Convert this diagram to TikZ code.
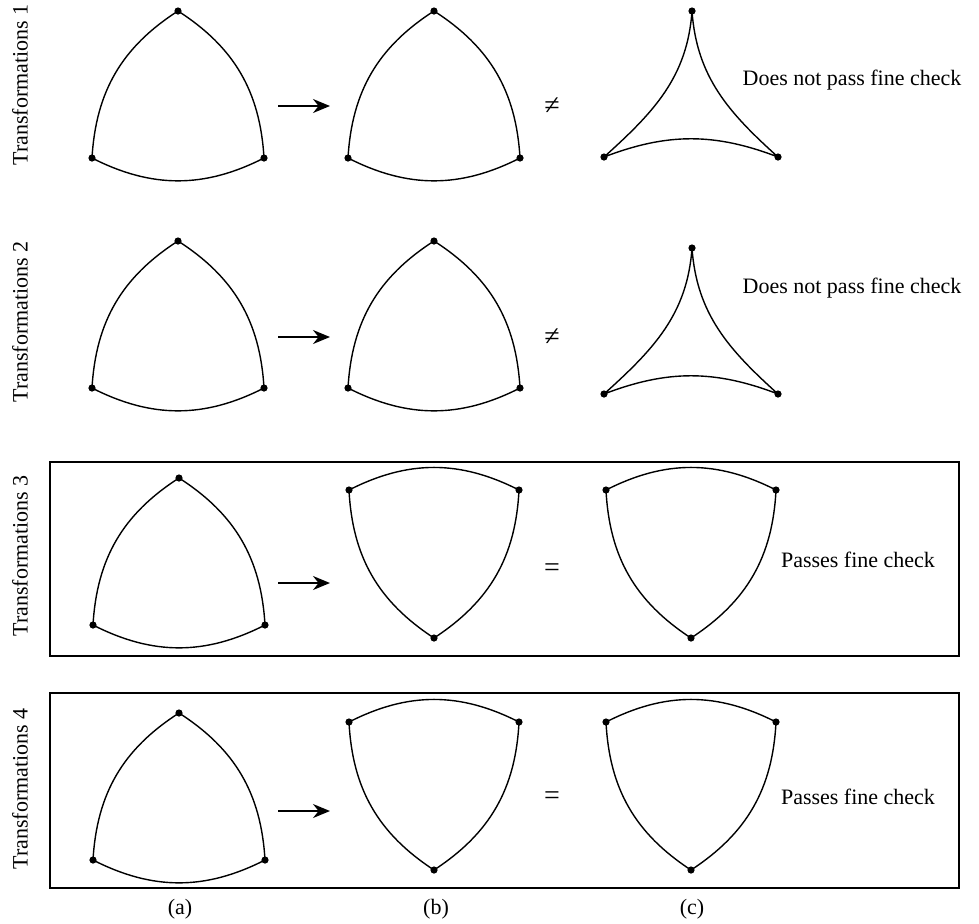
\documentclass[tikz,border=0pt]{standalone}
\usepackage{fontspec}
\setmainfont{Liberation Serif}
\usetikzlibrary{arrows.meta}

\begin{document}
\begin{tikzpicture}[x=0.5pt,y=-0.5pt,>={Stealth[length=8.5pt,width=7pt]},
  vertex/.style={circle,fill,inner sep=0pt,minimum size=3.6pt},
  arcline/.style={line width=0.7pt},
  boxline/.style={line width=1pt},
  txt/.style={font=\fontsize{11}{13}\selectfont},
  relsign/.style={font=\fontsize{14}{16}\selectfont},
  rowlabel/.style={txt,rotate=90},
  convex/.pic={
    \node[vertex] (-t) at (0,0) {};
    \node[vertex] (-r) at (86,147) {};
    \node[vertex] (-l) at (-86,147) {};
    \draw[arcline] (-t.center) to[bend left=27] (-r.center) to[bend left=27] (-l.center) to[bend left=27] (-t.center);},
  flipped/.pic={
    \node[vertex] (-l) at (-85,0) {};
    \node[vertex] (-r) at (85,0) {};
    \node[vertex] (-b) at (0,148) {};
    \draw[arcline] (-l.center) to[bend left=27] (-r.center) to[bend left=27] (-b.center) to[bend left=27] (-l.center);},
  concave/.pic={
    \node[vertex] (-t) at (0,0) {};
    \node[vertex] (-r) at (86,146) {};
    \node[vertex] (-l) at (-88,146) {};
    \draw[arcline] (-t.center) to[out=-86,in=138] (-r.center) to[bend right=21] (-l.center) to[out=42,in=-94] (-t.center);}]
\useasboundingbox (0,0) rectangle (979,923);

% row 1
\node[rowlabel] (lab1) at (20,85) {Transformations 1};
\pic (r1a) at (178,11) {convex};
\pic (r1b) at (434,11) {convex};
\pic (r1c) at (692,11) {concave};
\coordinate (s1) at (278,106);
\coordinate (e1) at (330,106);
\draw[->,line width=0.8pt] (s1) -- (e1);
\node[relsign] (ne1) at (552,106) {≠};
\node[txt] (chk1) at (852,80) {Does not pass fine check};

% row 2
\node[rowlabel] (lab2) at (20,322) {Transformations 2};
\pic (r2a) at (178,241) {convex};
\pic (r2b) at (434,241) {convex};
\pic (r2c) at (692,248) {concave};
\coordinate (s2) at (278,337);
\coordinate (e2) at (330,337);
\draw[->,line width=0.8pt] (s2) -- (e2);
\node[relsign] (ne2) at (552,337) {≠};
\node[txt] (chk2) at (852,288) {Does not pass fine check};

% row 3
\draw[boxline] (50,462) rectangle (959,656);
\node[rowlabel] (lab3) at (20,556) {Transformations 3};
\pic (r3a) at (179,478) {convex};
\pic (r3b) at (434,490) {flipped};
\pic (r3c) at (691,490) {flipped};
\coordinate (s3) at (278,583);
\coordinate (e3) at (330,583);
\draw[->,line width=0.8pt] (s3) -- (e3);
\node[relsign] (eq3) at (552,570) {=};
\node[txt] (chk3) at (858,560) {Passes fine check};

% row 4
\draw[boxline] (50,693) rectangle (959,888);
\node[rowlabel] (lab4) at (20,789) {Transformations 4};
\pic (r4a) at (179,713) {convex};
\pic (r4b) at (434,722) {flipped};
\pic (r4c) at (691,722) {flipped};
\coordinate (s4) at (278,811);
\coordinate (e4) at (330,811);
\draw[->,line width=0.8pt] (s4) -- (e4);
\node[relsign] (eq4) at (552,798) {=};
\node[txt] (chk4) at (858,797) {Passes fine check};

% captions
\node[txt] (capa) at (180,909) {(a)};
\node[txt] (capb) at (436,909) {(b)};
\node[txt] (capc) at (692,909) {(c)};
\end{tikzpicture}
\end{document}
